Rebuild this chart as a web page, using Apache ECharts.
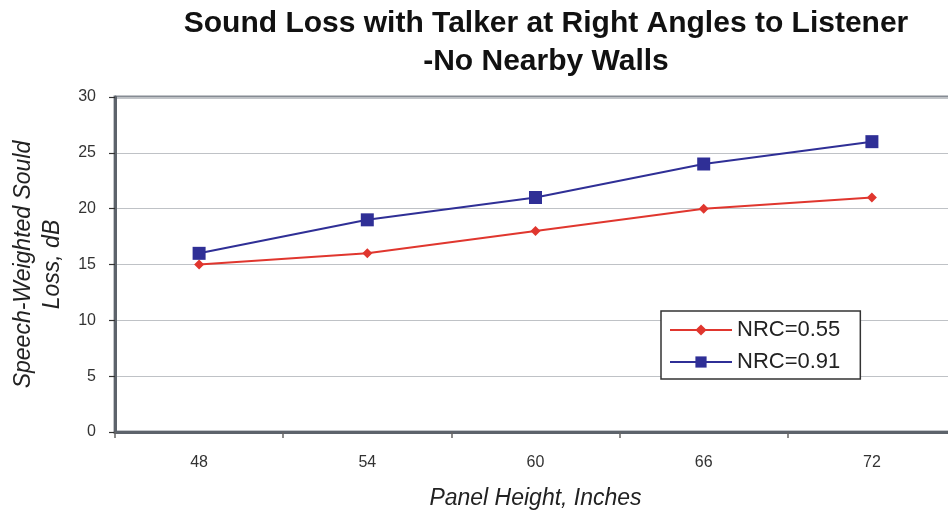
<!DOCTYPE html>
<html>
<head>
<meta charset="utf-8">
<script src="https://cdn.jsdelivr.net/npm/echarts@6/dist/echarts.min.js"></script>
<style>
  html, body { margin: 0; padding: 0; background: #fff; }
  #chart { width: 948px; height: 512px; }
</style>
</head>
<body>
<div id="chart"></div>
<script>
// Panel heights (inches) and speech-weighted sound loss (dB)
const panelHeights = ['48', '54', '60', '66', '72'];
const nrc055 = [15, 16, 18, 20, 21];
const nrc091 = [16, 19, 21, 24, 26];
const yTicks = { min: 0, max: 30, interval: 5 };

const chart = echarts.init(document.getElementById('chart'));
const font = '"Liberation Sans", Arial, sans-serif';

chart.setOption({
  backgroundColor: '#fff',
  animation: false,
  title: {
    text: 'Sound Loss with Talker at Right Angles to Listener\n-No Nearby Walls',
    left: 541,
    top: 0,
    textAlign: 'center',
    textStyle: {
      fontFamily: font,
      fontSize: 30,
      fontWeight: 'bold',
      color: '#111',
      lineHeight: 38
    }
  },
  grid: {
    left: 115,
    top: 97,
    right: -8,
    bottom: 80,
    outerBoundsMode: 'none',
    containLabel: false,
    show: true,
    borderColor: '#858b93',
    borderWidth: 3
  },
  legend: {
    orient: 'vertical',
    left: 661,
    top: 311,
    itemWidth: 62,
    itemHeight: 14,
    itemGap: 10,
    padding: [8, 20, 6, 8],
    backgroundColor: '#fff',
    borderColor: '#333',
    borderWidth: 1.5,
    textStyle: { fontFamily: font, fontSize: 22, color: '#222' },
    data: ['NRC=0.55', 'NRC=0.91']
  },
  xAxis: {
    type: 'category',
    data: panelHeights,
    boundaryGap: true,
    name: 'Panel Height, Inches',
    nameLocation: 'middle',
    nameGap: 55,
    nameTextStyle: { fontFamily: font, fontSize: 23, fontStyle: 'italic', color: '#222' },
    axisLine: { lineStyle: { color: '#5d636b', width: 3 } },
    axisTick: { show: true, length: 6, inside: false, lineStyle: { color: '#666', width: 1.5 } },
    axisLabel: { fontFamily: font, fontSize: 16, color: '#333', margin: 23 },
    splitLine: { show: false }
  },
  yAxis: {
    type: 'value',
    min: yTicks.min,
    max: yTicks.max,
    interval: yTicks.interval,
    name: 'Speech-Weighted Sould\nLoss, dB',
    nameLocation: 'middle',
    nameGap: 48,
    nameTextStyle: { fontFamily: font, fontSize: 23, fontStyle: 'italic', color: '#222', lineHeight: 29 },
    axisLine: { show: true, lineStyle: { color: '#5d636b', width: 3 } },
    axisTick: { show: true, length: 6, lineStyle: { color: '#333', width: 1.2 } },
    axisLabel: { fontFamily: font, fontSize: 16, color: '#333', margin: 19 },
    splitLine: { show: true, lineStyle: { color: '#bfc2c6', width: 1.2 } }
  },
  series: [
    {
      name: 'NRC=0.55',
      type: 'line',
      data: nrc055,
      symbol: 'diamond',
      symbolSize: 10,
      lineStyle: { color: '#e0362e', width: 2 },
      itemStyle: { color: '#e0362e' }
    },
    {
      name: 'NRC=0.91',
      type: 'line',
      data: nrc091,
      symbol: 'rect',
      symbolSize: 13,
      lineStyle: { color: '#2f2f96', width: 2 },
      itemStyle: { color: '#2f2f96' }
    }
  ]
});
</script>
</body>
</html>
